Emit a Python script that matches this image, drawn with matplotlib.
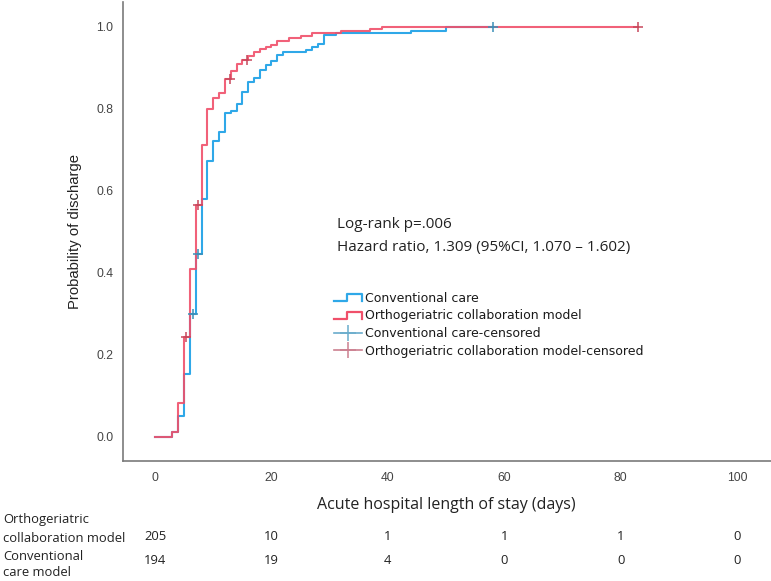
import numpy as np
import matplotlib
matplotlib.use("Agg")
import matplotlib.pyplot as plt
from matplotlib.lines import Line2D
from matplotlib.legend_handler import HandlerBase
from matplotlib.transforms import blended_transform_factory

# ---------------- data ----------------
ortho_times = [0, 3, 4, 5, 6, 7, 8, 9, 10, 11, 12, 13, 14, 15, 16, 17, 18, 19, 20, 21, 23, 25, 27, 32, 37, 39, 83]
ortho_prob = [0.0, 0.012, 0.082, 0.243, 0.41, 0.565, 0.712, 0.798, 0.827, 0.837, 0.872, 0.892, 0.908, 0.918,
              0.928, 0.939, 0.944, 0.951, 0.956, 0.965, 0.972, 0.978, 0.983, 0.990, 0.995, 1.0, 1.0]
ortho_censor_t = [5.4, 7.3, 12.9, 15.8, 83]

conv_times = [0, 3, 4, 5, 6, 7, 8, 9, 10, 11, 12, 13, 14, 15, 16, 17, 18, 19, 20, 21, 22, 26, 27, 28, 29, 31, 44, 50, 58]
conv_prob = [0.0, 0.013, 0.051, 0.153, 0.30, 0.446, 0.58, 0.673, 0.72, 0.742, 0.789, 0.794, 0.81, 0.841, 0.864,
             0.874, 0.894, 0.906, 0.916, 0.931, 0.937, 0.943, 0.951, 0.957, 0.979, 0.983, 0.99, 1.0, 1.0]
conv_censor_t = [6.6, 7.3, 58]

risk_times = [0, 20, 40, 60, 80, 100]
risk_ortho = [205, 10, 1, 1, 1, 0]
risk_conv = [194, 19, 4, 0, 0, 0]

xticks = [0, 20, 40, 60, 80, 100]
yticks = [0.0, 0.2, 0.4, 0.6, 0.8, 1.0]

BLUE = "#2fa8e8"
RED = "#f0506a"
BLUE_C = "#3b8fb8"
RED_C = "#c8485c"

def step_value(times, probs, t):
    i = np.searchsorted(times, t, side="right") - 1
    return probs[i]

W, H = 771, 581
fig = plt.figure(figsize=(W / 100, H / 100), dpi=100)
ax = fig.add_axes([123 / W, 1 - 461 / H, 1 - 123 / W, (461 - 2) / H])

ax.step(conv_times, conv_prob, where="post", color=BLUE, lw=1.5, zorder=3)
ax.step(ortho_times, ortho_prob, where="post", color=RED, lw=1.5, alpha=0.9, zorder=4)

ax.plot(conv_censor_t, [step_value(conv_times, conv_prob, t) for t in conv_censor_t],
        ls="none", marker="+", ms=7, mew=1.1, color=BLUE_C, zorder=5)
ax.plot(ortho_censor_t, [step_value(ortho_times, ortho_prob, t) for t in ortho_censor_t],
        ls="none", marker="+", ms=7, mew=1.1, color=RED_C, zorder=5)

ax.set_xlim(-5.5, 105.8)
ax.set_ylim(-0.0585, 1.0597)
ax.set_xticks(xticks)
ax.set_xticklabels([str(v) for v in xticks])
ax.set_yticks(yticks)
ax.set_yticklabels([f"{v:.1f}" for v in yticks])
ax.tick_params(length=0, labelsize=8.7, labelcolor="#444444", pad=8)
ax.tick_params(axis="y", pad=7)
for lab in ax.get_xticklabels() + ax.get_yticklabels():
    lab.set_family("Liberation Sans")
for s in ["top", "right"]:
    ax.spines[s].set_visible(False)
for s in ["left", "bottom"]:
    ax.spines[s].set_color("#7a7a7a")
    ax.spines[s].set_linewidth(1.2)

ax.set_ylabel("Probability of discharge", family="Liberation Sans", fontsize=10.7, color="#222222", labelpad=10)

fig.text(446 / W, 1 - 505 / H, "Acute hospital length of stay (days)", family="Open Sans",
         fontsize=11.5, color="#222222", ha="center", va="center")

fig.text(337 / W, 1 - 225 / H, "Log-rank p=.006", family="Open Sans", fontsize=11,
         color="#222222", ha="left", va="center")
fig.text(337 / W, 1 - 248 / H, "Hazard ratio, 1.309 (95%CI, 1.070 \u2013 1.602)", family="Open Sans",
         fontsize=11, color="#222222", ha="left", va="center")

# legend
class StepHandler(HandlerBase):
    def create_artists(self, legend, orig_handle, xdescent, ydescent, width, height, fontsize, trans):
        x0, y0 = -xdescent, -ydescent
        lo, hi = y0 + 0.1 * height, y0 + 0.9 * height
        xs = [x0, x0 + 0.45 * width, x0 + 0.45 * width, x0 + width, x0 + width]
        ys = [lo, lo, hi, hi, lo]
        ln = Line2D(xs, ys, color=orig_handle.get_color(), lw=orig_handle.get_linewidth())
        ln.set_transform(trans)
        return [ln]

h1 = Line2D([], [], color=BLUE, lw=1.6)
h2 = Line2D([], [], color=RED, lw=1.6)
h3 = Line2D([], [], color="#6aaccc", lw=1.2, marker="+", ms=12, mew=1.1)
h4 = Line2D([], [], color="#cc8090", lw=1.2, marker="+", ms=12, mew=1.1)
leg = fig.legend([h1, h2, h3, h4],
                 ["Conventional care", "Orthogeriatric collaboration model",
                  "Conventional care-censored", "Orthogeriatric collaboration model-censored"],
                 handler_map={h1: StepHandler(), h2: StepHandler()},
                 loc="upper left", bbox_to_anchor=(334 / W, 1 - 292 / H), frameon=False,
                 borderpad=0, borderaxespad=0, handlelength=2.24, handletextpad=0.24,
                 labelspacing=0.36, prop={"family": "DejaVu Sans", "size": 9}, numpoints=1)
for t in leg.get_texts():
    t.set_color("#1a1a1a")

# numbers at risk
tr = blended_transform_factory(ax.transData, fig.transFigure)
for x, a, b in zip(risk_times, risk_ortho, risk_conv):
    ax.text(x, 1 - 537 / H, str(a), transform=tr, ha="center", va="center", family="Open Sans",
            fontsize=9.4, color="#222222", clip_on=False)
    ax.text(x, 1 - 561 / H, str(b), transform=tr, ha="center", va="center", family="Open Sans",
            fontsize=9.4, color="#222222", clip_on=False)

row_lines = [("Orthogeriatric", 520), ("collaboration model", 538), ("Conventional", 557), ("care model", 573)]
for txt, y in row_lines:
    fig.text(3 / W, 1 - y / H, txt, family="Open Sans", fontsize=9.4, color="#222222", ha="left", va="center")

fig.savefig("out.png", dpi=100)
